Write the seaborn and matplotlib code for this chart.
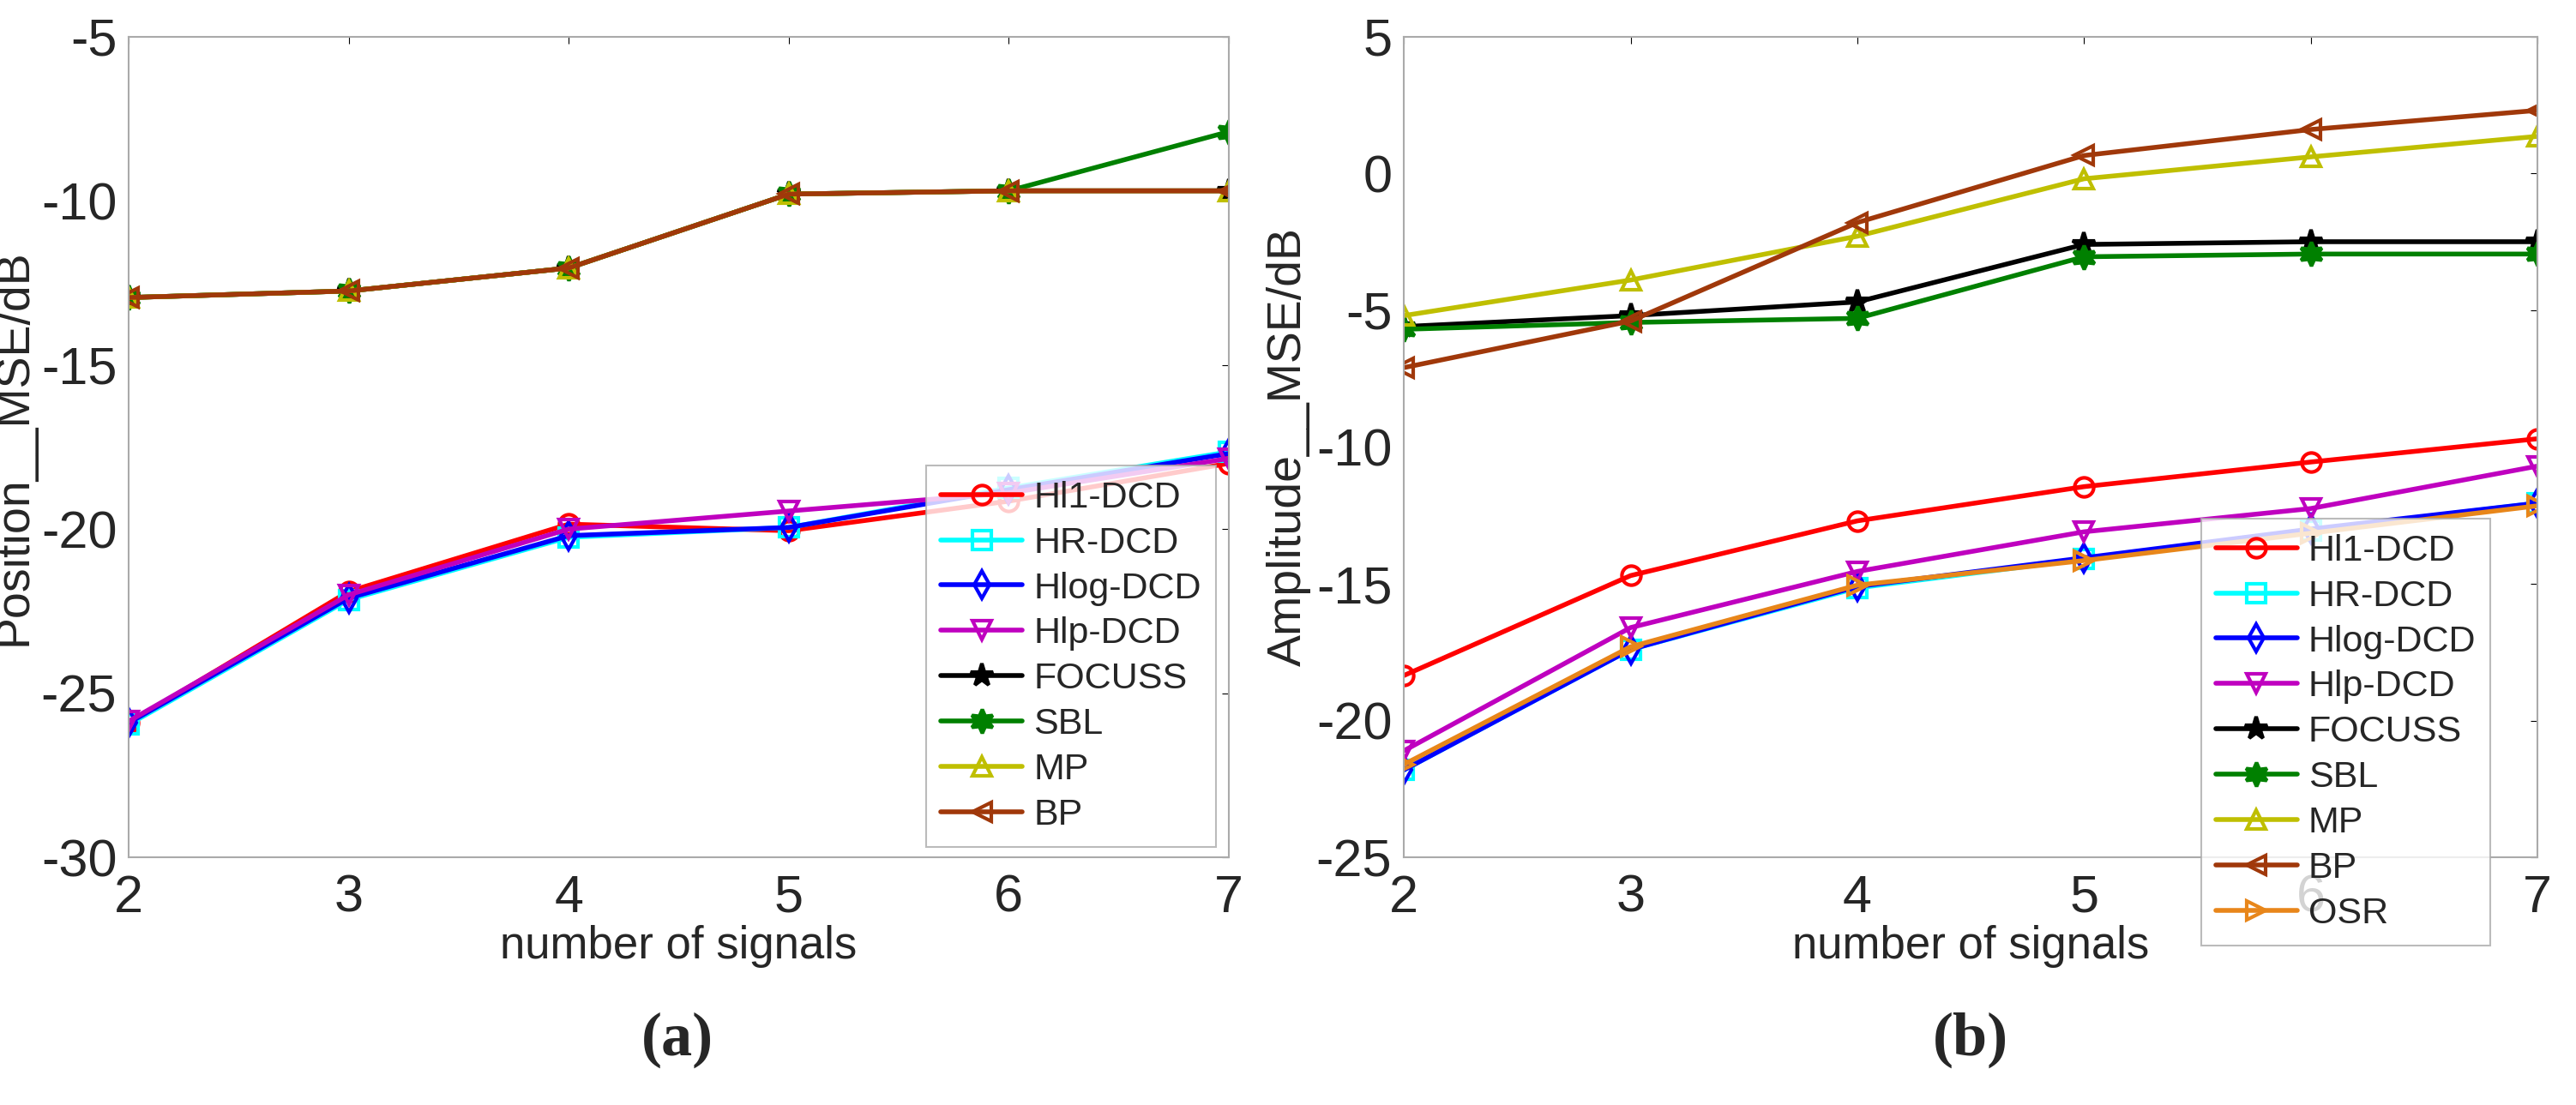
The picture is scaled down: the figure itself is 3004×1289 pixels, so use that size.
import matplotlib
matplotlib.use('Agg')
import matplotlib.pyplot as plt
import seaborn as sns
import pandas as pd

sns.set_style('white')
plt.rcParams['font.family'] = ['Liberation Sans', 'DejaVu Sans']
plt.rcParams['axes.unicode_minus'] = False

x = [2, 3, 4, 5, 6, 7]

# panel (a): position MSE
pos_hl1 = [-25.9, -21.9, -19.85, -20.05, -19.15, -18.0]
pos_hr = [-25.95, -22.15, -20.25, -19.95, -18.75, -17.65]
pos_hlog = [-25.9, -22.1, -20.2, -19.95, -18.8, -17.7]
pos_hlp = [-25.85, -22.0, -20.0, -19.45, -18.9, -17.85]
pos_focuss = [-12.95, -12.75, -12.05, -9.8, -9.7, -9.7]
pos_sbl = [-12.95, -12.75, -12.05, -9.8, -9.7, -7.9]
pos_mp = [-12.95, -12.75, -12.05, -9.8, -9.7, -9.7]
pos_bp = [-12.95, -12.75, -12.05, -9.8, -9.7, -9.7]

# panel (b): amplitude MSE
amp_hl1 = [-18.35, -14.7, -12.7, -11.45, -10.55, -9.7]
amp_hr = [-21.8, -17.4, -15.15, -14.1, -13.05, -12.05]
amp_hlog = [-21.8, -17.4, -15.1, -14.05, -13.0, -12.05]
amp_hlp = [-21.1, -16.6, -14.55, -13.1, -12.25, -10.7]
amp_focuss = [-5.6, -5.2, -4.7, -2.6, -2.5, -2.5]
amp_sbl = [-5.7, -5.45, -5.3, -3.05, -2.95, -2.95]
amp_mp = [-5.2, -3.9, -2.3, -0.2, 0.6, 1.35]
amp_bp = [-7.1, -5.4, -1.8, 0.65, 1.6, 2.3]
amp_osr = [-21.6, -17.3, -15.05, -14.15, -13.15, -12.15]

names = ['Hl1-DCD', 'HR-DCD', 'Hlog-DCD', 'Hlp-DCD', 'FOCUSS', 'SBL', 'MP', 'BP', 'OSR']
colors = ['#ff0000', '#00ffff', '#0000ff', '#bf00bf', '#000000', '#008000', '#bfbf00', '#a0380a', '#e8861a']
markers = ['o', 's', 'd', 'v', '*', (6, 1, 0), '^', '<', '>']

fig = plt.figure(figsize=(30.04, 12.89), dpi=100)
ax1 = fig.add_axes([0.05, 0.224, 0.427, 0.743])
ax2 = fig.add_axes([0.545, 0.224, 0.44, 0.743])

def draw(ax, series):
    for i, ys in enumerate(series):
        df = pd.DataFrame({'x': x, 'y': ys})
        filled = markers[i] in ('*', (6, 1, 0))
        ms = 20 if filled else 16
        sns.lineplot(data=df, x='x', y='y', ax=ax, color=colors[i], linewidth=4,
                     marker=markers[i], markersize=ms,
                     markerfacecolor=colors[i] if filled else 'none',
                     markeredgecolor=colors[i], markeredgewidth=3, label=names[i])
    ax.set_xlim(2, 7)
    ax.set_xticks(x)
    ax.tick_params(direction='in', top=True, right=True, labelsize=44, length=6, color='black')
    ax.tick_params(axis='x', pad=14)
    ax.tick_params(axis='y', pad=10)
    for s in ax.spines.values():
        s.set_color('#aaaaaa')
        s.set_linewidth(1.5)
    ax.set_xlabel('number of signals', fontsize=38, labelpad=2)

draw(ax1, [pos_hl1, pos_hr, pos_hlog, pos_hlp, pos_focuss, pos_sbl, pos_mp, pos_bp])
ax1.set_ylim(-30, -5)
ax1.set_yticks([-30, -25, -20, -15, -10, -5])
ax1.set_ylabel('Position__MSE/dB', fontsize=40, labelpad=4)
leg1 = ax1.legend(loc='lower right', bbox_to_anchor=(1.005, -0.01), fontsize=31, frameon=True,
                  fancybox=False, edgecolor='#aaaaaa', handlelength=2.2, labelspacing=0.3,
                  borderpad=0.4, handletextpad=0.3)

draw(ax2, [amp_hl1, amp_hr, amp_hlog, amp_hlp, amp_focuss, amp_sbl, amp_mp, amp_bp, amp_osr])
ax2.set_ylim(-25, 5)
ax2.set_yticks([-25, -20, -15, -10, -5, 0, 5])
ax2.set_ylabel('Amplitude__MSE/dB', fontsize=40, labelpad=4)
leg2 = ax2.legend(loc='lower right', bbox_to_anchor=(0.975, -0.13), fontsize=31, frameon=True,
                  fancybox=False, edgecolor='#aaaaaa', handlelength=2.2, labelspacing=0.3,
                  borderpad=0.4, handletextpad=0.3)
for leg in (leg1, leg2):
    leg.get_frame().set_linewidth(1.5)

fig.text(0.263, 0.045, '(a)', fontsize=52, fontweight='bold', family='Liberation Serif', ha='center')
fig.text(0.765, 0.045, '(b)', fontsize=52, fontweight='bold', family='Liberation Serif', ha='center')

fig.savefig('out.png', dpi=100, facecolor='white')
